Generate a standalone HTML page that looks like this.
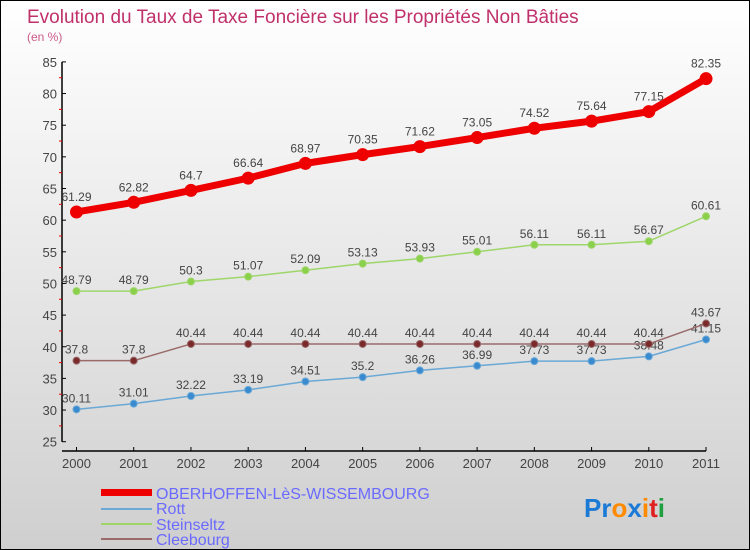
<!DOCTYPE html>
<html><head><meta charset="utf-8"><style>
body{margin:0}
#c{position:relative;width:748px;height:548px;border:1px solid #000;background:linear-gradient(#ffffff,#cfcfcf);font-family:"Liberation Sans",sans-serif;overflow:hidden}
</style></head><body>
<div id="c">
<svg id="svg" width="748" height="548" xmlns="http://www.w3.org/2000/svg">
<text x="26" y="22" font-size="19" fill="#c0306a">Evolution du Taux de Taxe Foncière sur les Propriétés Non Bâties</text>
<text x="26" y="40" font-size="12" fill="#c0306a" opacity="0.8">(en %)</text>
<g id="axes"></g><g id="series"></g>
<g>
<rect x="100" y="488" width="51" height="7" fill="#ee0000"/>
<text x="155" y="498" font-size="16" fill="#6a6aff">OBERHOFFEN-LèS-WISSEMBOURG</text>
<rect x="100" y="507" width="51" height="2" fill="#6aa8d6"/>
<text x="155" y="513" font-size="16" fill="#6a6aff">Rott</text>
<rect x="100" y="522" width="51" height="2" fill="#9ed66a"/>
<text x="155" y="529" font-size="16" fill="#6a6aff">Steinseltz</text>
<rect x="100" y="537" width="51" height="2" fill="#9a6a6a"/>
<text x="155" y="544" font-size="16" fill="#6a6aff">Cleebourg</text>
</g>
<text x="583" y="516" font-size="26" font-weight="bold"><tspan fill="#1a7ad6">Pr</tspan><tspan fill="#ff8a00">o</tspan><tspan fill="#1a7ad6">x</tspan><tspan fill="#ff8a00">i</tspan><tspan fill="#e02020">t</tspan><tspan fill="#20a040">i</tspan></text>
</svg>
</div>
<script>
const years=[2000,2001,2002,2003,2004,2005,2006,2007,2008,2009,2010,2011];
const yTicks=[25,30,35,40,45,50,55,60,65,70,75,80,85];
const oberhoffen=[61.29,62.82,64.7,66.64,68.97,70.35,71.62,73.05,74.52,75.64,77.15,82.35];
const oberLabels=["61.29","62.82","64.7","66.64","68.97","70.35","71.62","73.05","74.52","75.64","77.15","82.35"];
const rott=[30.11,31.01,32.22,33.19,34.51,35.2,36.26,36.99,37.73,37.73,38.48,41.15];
const rottLabels=["30.11","31.01","32.22","33.19","34.51","35.2","36.26","36.99","37.73","37.73","38.48","41.15"];
const steinseltz=[48.79,48.79,50.3,51.07,52.09,53.13,53.93,55.01,56.11,56.11,56.67,60.61];
const steinLabels=["48.79","48.79","50.3","51.07","52.09","53.13","53.93","55.01","56.11","56.11","56.67","60.61"];
const cleebourg=[37.8,37.8,40.44,40.44,40.44,40.44,40.44,40.44,40.44,40.44,40.44,43.67];
const cleeLabels=["37.8","37.8","40.44","40.44","40.44","40.44","40.44","40.44","40.44","40.44","40.44","43.67"];
const NS="http://www.w3.org/2000/svg";
const X=i=>75.5+i*57.23;
const Y=v=>440.7-(v-25)*6.33;
function mk(t,a,p){const e=document.createElementNS(NS,t);for(const k in a)e.setAttribute(k,a[k]);p.appendChild(e);return e;}
const ax=document.getElementById('axes');
let l=mk('line',{x1:61,y1:Y(85),x2:61,y2:Y(25),stroke:'#000','stroke-width':1.5},ax);


yTicks.forEach(v=>{
 mk('line',{x1:61,y1:Y(v),x2:65,y2:Y(v),stroke:'#000'},ax);
 if(v<85)mk('line',{x1:58,y1:Y(v+2.5),x2:61,y2:Y(v+2.5),stroke:'#e00'},ax);
 const t=mk('text',{x:56,y:Y(v)+5,'font-size':13,fill:'#444','text-anchor':'end'},ax);t.textContent=v;
 
 
});
l=mk('line',{x1:61,y1:450,x2:X(11),y2:450,stroke:'#000','stroke-width':1.5},ax);


years.forEach((y,i)=>{
 mk('line',{x1:X(i),y1:446,x2:X(i),y2:450,stroke:'#000'},ax);
 const t=mk('text',{x:X(i),y:467,'font-size':13,fill:'#444','text-anchor':'middle'},ax);t.textContent=y;
 
 
});
const sg=document.getElementById('series');
function draw(name,vals,labels,color,w,r,dot,lblOff){
 const g=mk('g',{},sg);
 
 
 const pl=mk('polyline',{points:vals.map((v,i)=>X(i)+','+Y(v)).join(' '),fill:'none',stroke:color,'stroke-width':w,'stroke-linejoin':'round'},g);
 
 
 vals.forEach((v,i)=>{
  const c=mk('circle',{cx:X(i),cy:Y(v),r:r,fill:dot,stroke:color,'stroke-width':1},g);
  
  
  const t=mk('text',{x:X(i),y:Y(v)+lblOff,'font-size':12,fill:'#444','text-anchor':'middle'},g);t.textContent=labels[i];
  
  
 });
}
draw('rott',rott,rottLabels,'#6aa8d6',1.5,3.5,'#3a8ad0',-7);
draw('steinseltz',steinseltz,steinLabels,'#9ed66a',1.5,3.5,'#8ad04a',-7);
draw('cleebourg',cleebourg,cleeLabels,'#9a6a6a',1.5,3.5,'#7a2a2a',-7);
draw('oberhoffen',oberhoffen,oberLabels,'#ee0000',7,6,'#ee0000',-11);
</script>
</body></html>
